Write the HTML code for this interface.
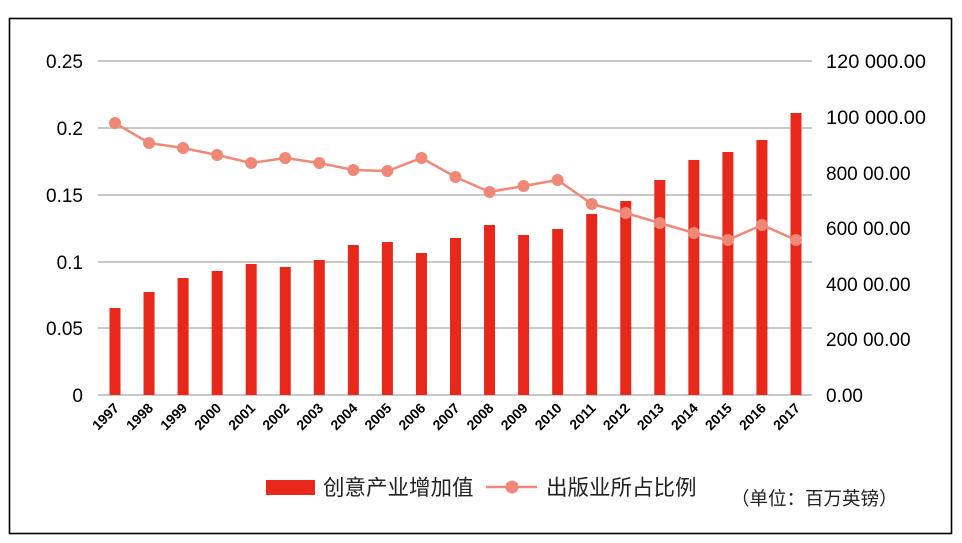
<!DOCTYPE html>
<html><head><meta charset="utf-8"><style>
html,body{margin:0;padding:0;background:#fff;}
svg{display:block;}
text{font-family:"Liberation Sans","Noto Sans CJK SC",sans-serif;}
</style></head><body>
<svg width="962" height="543" viewBox="0 0 962 543" xmlns="http://www.w3.org/2000/svg">
<rect x="9.5" y="18.5" width="942" height="515" fill="#fff" stroke="#000" stroke-width="1.6"/>
<g stroke="#a6a6a6" stroke-width="1.3">
<line x1="98" y1="61" x2="812" y2="61"/>
<line x1="98" y1="128" x2="812" y2="128"/>
<line x1="98" y1="195" x2="812" y2="195"/>
<line x1="98" y1="262" x2="812" y2="262"/>
<line x1="98" y1="328" x2="812" y2="328"/>
<line x1="98" y1="395" x2="812" y2="395"/>
</g>
<g font-size="19" fill="#000" text-anchor="end">
<text x="83" y="68">0.25</text>
<text x="83" y="135">0.2</text>
<text x="83" y="202">0.15</text>
<text x="83" y="269">0.1</text>
<text x="83" y="335">0.05</text>
<text x="83" y="402">0</text>
</g>
<g font-size="19" fill="#000" text-anchor="start">
<text x="826" y="68" textLength="100" lengthAdjust="spacingAndGlyphs">120 000.00</text>
<text x="826" y="124" textLength="100" lengthAdjust="spacingAndGlyphs">100 000.00</text>
<text x="826" y="180">800 00.00</text>
<text x="826" y="235">600 00.00</text>
<text x="826" y="291">400 00.00</text>
<text x="826" y="346">200 00.00</text>
<text x="826" y="402">0.00</text>
</g>
<g fill="#e8281a" id="bars"></g>
<g id="line"></g>
<g id="labels" font-size="14" font-weight="bold" fill="#000"></g>
<rect x="266" y="480" width="49" height="15" fill="#e8281a"/>
<text x="323" y="495" font-size="21.5" fill="#222">创意产业增加值</text>
<line x1="486" y1="487" x2="537" y2="487" stroke="#f08878" stroke-width="2.5"/>
<circle cx="512" cy="487" r="6.5" fill="#f08878"/>
<text x="546" y="495" font-size="21.5" fill="#222">出版业所占比例</text>
<text x="731" y="505" font-size="18.5" fill="#222">（单位：百万英镑）</text>
</svg>
<script>
var tops=[308,292,278,271,264,267,260,245,242,253,238,225,235,229,214,201,180,160,152,140,113];
var ly=[123,143,148,155,163,158,163,170,171,158,177,192,186,180,204,213,223,233,240,225,240];
var ns="http://www.w3.org/2000/svg";
var bars=document.getElementById('bars'),line=document.getElementById('line'),lab=document.getElementById('labels');
var pts=[];
for(var i=0;i<21;i++){
 var cx=115+i*34.05;
 var r=document.createElementNS(ns,'rect');
 r.setAttribute('x',cx-5.5);r.setAttribute('y',tops[i]);r.setAttribute('width',11);r.setAttribute('height',395-tops[i]);
 bars.appendChild(r);
 pts.push(cx+','+ly[i]);
 var t=document.createElementNS(ns,'text');
 t.setAttribute('x',cx+5);t.setAttribute('y',409);t.setAttribute('text-anchor','end');
 t.setAttribute('transform','rotate(-45 '+(cx+5)+' 409)');
 t.textContent=1997+i;lab.appendChild(t);
}
var pl=document.createElementNS(ns,'polyline');
pl.setAttribute('points',pts.join(' '));pl.setAttribute('fill','none');pl.setAttribute('stroke','#f08878');pl.setAttribute('stroke-width','2.5');
line.appendChild(pl);
for(var i=0;i<21;i++){var c=document.createElementNS(ns,'circle');c.setAttribute('cx',115+i*34.05);c.setAttribute('cy',ly[i]);c.setAttribute('r',6);c.setAttribute('fill','#f08878');line.appendChild(c);}
</script>
</body></html>
